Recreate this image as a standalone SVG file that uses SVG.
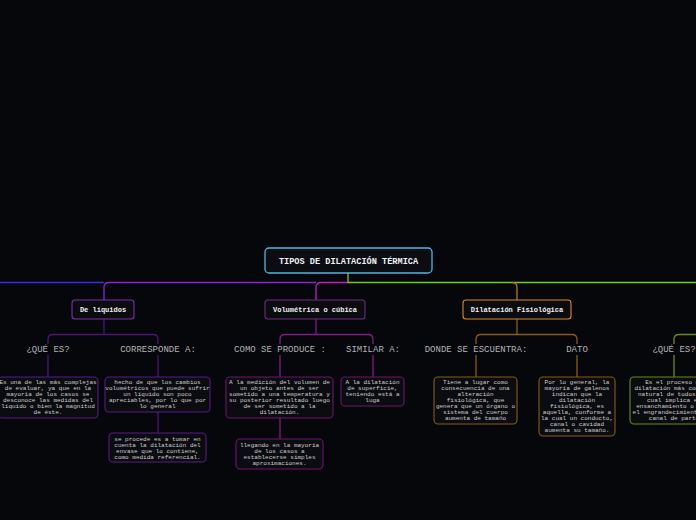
<svg xmlns="http://www.w3.org/2000/svg" width="696" height="520" viewBox="0 0 696 520">
<style>
.bg{fill:#05070b}
.c{fill:none;stroke-width:1.3}
.lbl{font-family:"Liberation Mono",monospace;font-size:9px;fill:#b4b4b4;text-anchor:middle}
.bt{font-family:"Liberation Mono",monospace;font-size:6px;fill:#cfcfcf;text-anchor:middle}
.nt{font-family:"Liberation Mono",monospace;font-size:7px;font-weight:bold;fill:#f2f2f2;text-anchor:middle}
.box{fill:#0b0c10;stroke-width:1.1}
</style>
<rect class="bg" x="0" y="0" width="696" height="520"/>
<g id="connectors">
  <path class="c" stroke="#3a2ee8" d="M0 282.5 H104"/>
  <path class="c" stroke="#8a22d8" d="M316 282.5 H109 Q104 282.5 104 287.5 V300"/>
  <path class="c" stroke="#c21cc8" d="M348 282.5 H321 Q316 282.5 316 287.5 V300"/>
  <path class="c" stroke="#6cd01c" d="M348 273 V282.5 H696"/>
  <path class="c" stroke="#b8741e" d="M512 282.5 Q517 282.5 517 287.5 V300"/>
  <!-- De liquidos sub -->
  <path class="c" stroke="#4e1478" d="M104 319 V334.5 M53 334.5 H153 Q158 334.5 158 339.5 V344 M53 334.5 Q48 334.5 48 339.5 V344 M48 355 V377 M158 355 V377 M158 412 V433"/>
  <!-- Volumetrica sub -->
  <path class="c" stroke="#861a86" d="M316 319 V334.5 M285 334.5 H368 Q373 334.5 373 339.5 V344 M285 334.5 Q280 334.5 280 339.5 V344 M280 355 V377 M373 355 V377 M280 418 V439"/>
  <!-- Fisiologica sub -->
  <path class="c" stroke="#8a5a18" d="M517 319 V334.5 M481 334.5 H572 Q577 334.5 577 339.5 V344 M481 334.5 Q476 334.5 476 339.5 V344 M476 355 V377 M577 355 V377"/>
  <!-- right olive -->
  <path class="c" stroke="#6a8c1c" d="M696 334.5 H679 Q674 334.5 674 339.5 V344 M674 355 V377"/>
</g>
<g id="root">
  <rect x="265" y="248" width="167" height="25" rx="4" fill="#0b0d12" stroke="#4fb6dc" stroke-width="1.3"/>
  <text class="nt" x="348.5" y="263.5" style="font-size:8.6px">TIPOS DE DILATACIÓN TÉRMICA</text>
</g>
<g id="n-liquidos">
  <rect class="box" x="72" y="300" width="62" height="19" rx="3" stroke="#7a2eb0"/>
  <text class="nt" x="103" y="312">De líquidos</text>
</g>
<g id="n-volumetrica">
  <rect class="box" x="265" y="300" width="100" height="19" rx="3" stroke="#6e2c80"/>
  <text class="nt" x="315" y="312">Volumétrica o cúbica</text>
</g>
<g id="n-fisiologica">
  <rect class="box" x="463" y="300" width="108" height="19" rx="3" stroke="#e0862a"/>
  <text class="nt" x="517" y="312">Dilatación Fisiológica</text>
</g>
<g id="l-que-es-1"><text class="lbl" x="48" y="352">¿QUÉ ES?</text></g>
<g id="l-corresponde"><text class="lbl" x="158" y="352">CORRESPONDE A:</text></g>
<g id="l-como"><text class="lbl" x="280" y="352">COMO SE PRODUCE :</text></g>
<g id="l-similar"><text class="lbl" x="373" y="352">SIMILAR A:</text></g>
<g id="l-donde"><text class="lbl" x="476" y="352">DONDE SE ESCUENTRA:</text></g>
<g id="l-dato"><text class="lbl" x="577" y="352">DATO</text></g>
<g id="l-que-es-2"><text class="lbl" x="674" y="352">¿QUÉ ES?</text></g>
<g id="b1">
  <rect class="box" x="-2" y="377" width="100" height="41" rx="4" stroke="#5a1a88"/>
  <text class="bt" x="48" y="383.5"><tspan x="48">Es una de las más complejas</tspan><tspan x="48" dy="6.1">de evaluar, ya que en la</tspan><tspan x="48" dy="6.1">mayoría de los casos se</tspan><tspan x="48" dy="6.1">desconoce las medidas del</tspan><tspan x="48" dy="6.1">líquido o bien la magnitud</tspan><tspan x="48" dy="6.1">de éste.</tspan></text>
</g>
<g id="b2">
  <rect class="box" x="105" y="377" width="105" height="35" rx="4" stroke="#5a1a88"/>
  <text class="bt" x="157.5" y="383.5"><tspan x="157.5">hecho de que los cambios</tspan><tspan x="157.5" dy="6.1">volumétricos que puede sufrir</tspan><tspan x="157.5" dy="6.1">un líquido son poco</tspan><tspan x="157.5" dy="6.1">apreciables, por lo que por</tspan><tspan x="157.5" dy="6.1">lo general</tspan></text>
</g>
<g id="b3">
  <rect class="box" x="109" y="433" width="97" height="29" rx="4" stroke="#5a1a88"/>
  <text class="bt" x="157.5" y="440.5"><tspan x="157.5">se procede es a tomar en</tspan><tspan x="157.5" dy="6.1">cuenta la dilatación del</tspan><tspan x="157.5" dy="6.1">envase que lo contiene,</tspan><tspan x="157.5" dy="6.1">como medida referencial.</tspan></text>
</g>
<g id="b4">
  <rect class="box" x="226" y="377" width="107" height="41" rx="4" stroke="#6e1470"/>
  <text class="bt" x="279.5" y="383.5"><tspan x="279.5">A la medición del volumen de</tspan><tspan x="279.5" dy="6.1">un objeto antes de ser</tspan><tspan x="279.5" dy="6.1">sometido a una temperatura y</tspan><tspan x="279.5" dy="6.1">su posterior resultado luego</tspan><tspan x="279.5" dy="6.1">de ser sometido a la</tspan><tspan x="279.5" dy="6.1">dilatación.</tspan></text>
</g>
<g id="b5">
  <rect class="box" x="341" y="377" width="63" height="29" rx="4" stroke="#6e1470"/>
  <text class="bt" x="372.5" y="383.5"><tspan x="372.5">A la dilatación</tspan><tspan x="372.5" dy="6.1">de superficie,</tspan><tspan x="372.5" dy="6.1">teniendo está a</tspan><tspan x="372.5" dy="6.1">luga</tspan></text>
</g>
<g id="b6">
  <rect class="box" x="236" y="439" width="87" height="30" rx="4" stroke="#6e1470"/>
  <text class="bt" x="279.5" y="446.5"><tspan x="279.5">llegando en la mayoría</tspan><tspan x="279.5" dy="6.1">de los casos a</tspan><tspan x="279.5" dy="6.1">establecerse simples</tspan><tspan x="279.5" dy="6.1">aproximaciones.</tspan></text>
</g>
<g id="b7">
  <rect class="box" x="434" y="377" width="83" height="47" rx="4" stroke="#8a5a14"/>
  <text class="bt" x="475.5" y="383.5"><tspan x="475.5">Tiene a lugar como</tspan><tspan x="475.5" dy="6">consecuencia de una</tspan><tspan x="475.5" dy="6">alteración</tspan><tspan x="475.5" dy="6">fisiológica, que</tspan><tspan x="475.5" dy="6">genera que un órgano o</tspan><tspan x="475.5" dy="6">sistema del cuerpo</tspan><tspan x="475.5" dy="6">aumenta de tamaño</tspan></text>
</g>
<g id="b8">
  <rect class="box" x="539" y="377" width="76" height="59" rx="4" stroke="#8a5a14"/>
  <text class="bt" x="577" y="383.5"><tspan x="577">Por lo general, la</tspan><tspan x="577" dy="6">mayoría de galenos</tspan><tspan x="577" dy="6">indican que la</tspan><tspan x="577" dy="6">dilatación</tspan><tspan x="577" dy="6">fisiológica, es</tspan><tspan x="577" dy="6">aquella, conforme a</tspan><tspan x="577" dy="6">la cual un conducto,</tspan><tspan x="577" dy="6">canal o cavidad</tspan><tspan x="577" dy="6">aumenta su tamaño.</tspan></text>
</g>
<g id="b9">
  <rect class="box" x="630" y="377" width="88" height="47" rx="4" stroke="#6a8c1c"/>
  <text class="bt" x="674" y="383.5"><tspan x="674">Es el proceso de</tspan><tspan x="674" dy="6">dilatación más común y</tspan><tspan x="674" dy="6">natural de todos, el</tspan><tspan x="674" dy="6">cual implica el</tspan><tspan x="674" dy="6">ensanchamiento o bien</tspan><tspan x="674" dy="6">el engrandecimiento del</tspan><tspan x="674" dy="6">canal de parto</tspan></text>
</g>
</svg>
